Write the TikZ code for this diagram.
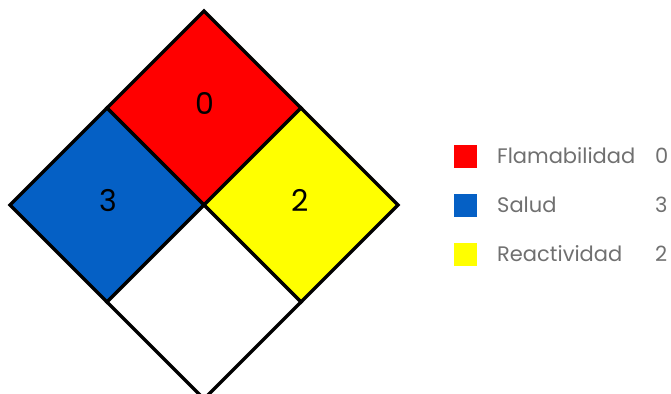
\documentclass[tikz,border=0pt]{standalone}
\usepackage{fontspec}
\setmainfont{Poppins}
\usepackage{xcolor}
\usetikzlibrary{calc}
\definecolor{nfRed}{HTML}{FF0000}
\definecolor{nfBlue}{HTML}{0560C5}
\definecolor{nfYellow}{HTML}{FFFF00}
\definecolor{nfText}{HTML}{707070}
\begin{document}
\begin{tikzpicture}[
  x=1pt, y=-1pt,
  quad/.style  = {draw=black, line width=3.2pt, line join=miter},
  digit/.style = {font=\fontsize{30}{31}\selectfont, text=black, inner sep=0pt},
  swatch/.style = {minimum size=23pt, inner sep=0pt},
  ltext/.style = {font=\fontsize{21}{23}\selectfont, text=nfText,
                  inner sep=0pt, anchor=west},
]
\useasboundingbox (0,0) rectangle (671,393);

%── Diamond corners and edge midpoints ───────────────────────────────────────
\coordinate (c)  at (204,205);
\coordinate (t)  at (204,11);
\coordinate (l)  at (10,205);
\coordinate (r)  at (398,205);
\coordinate (b)  at (204,399);
\coordinate (tl) at ($(t)!0.5!(l)$);
\coordinate (tr) at ($(t)!0.5!(r)$);
\coordinate (bl) at ($(b)!0.5!(l)$);
\coordinate (br) at ($(b)!0.5!(r)$);

%── Quadrants ────────────────────────────────────────────────────────────────
\filldraw[quad, fill=nfRed]    (t) -- (tr) -- (c) -- (tl) -- cycle;
\filldraw[quad, fill=nfBlue]   (tl) -- (c) -- (bl) -- (l) -- cycle;
\filldraw[quad, fill=nfYellow] (tr) -- (r) -- (br) -- (c) -- cycle;
\filldraw[quad, fill=white]    (c) -- (br) -- (b) -- (bl) -- cycle;

%── Ratings ──────────────────────────────────────────────────────────────────
\node[digit] (fla) at ($(t)!0.5!(c)+(1,-5)$) {0};
\node[digit] (sal) at ($(l)!0.5!(c)+(1,-4)$) {3};
\node[digit] (rea) at ($(r)!0.5!(c)+(-1,-5)$) {2};

%── Legend ───────────────────────────────────────────────────────────────────
\foreach \col/\lbl/\val [count=\i] in {nfRed/Flamabilidad/0,
                                       nfBlue/Salud/3,
                                       nfYellow/Reactividad/2}{
  \node[swatch, fill=\col] (sw\i) at (465.5,{107+49*\i}) {};
  \node[ltext] (lb\i) at (497,{107+49*\i}) {\lbl};
  \node[ltext] (lv\i) at (655,{107+49*\i}) {\val};
}
\end{tikzpicture}
\end{document}
